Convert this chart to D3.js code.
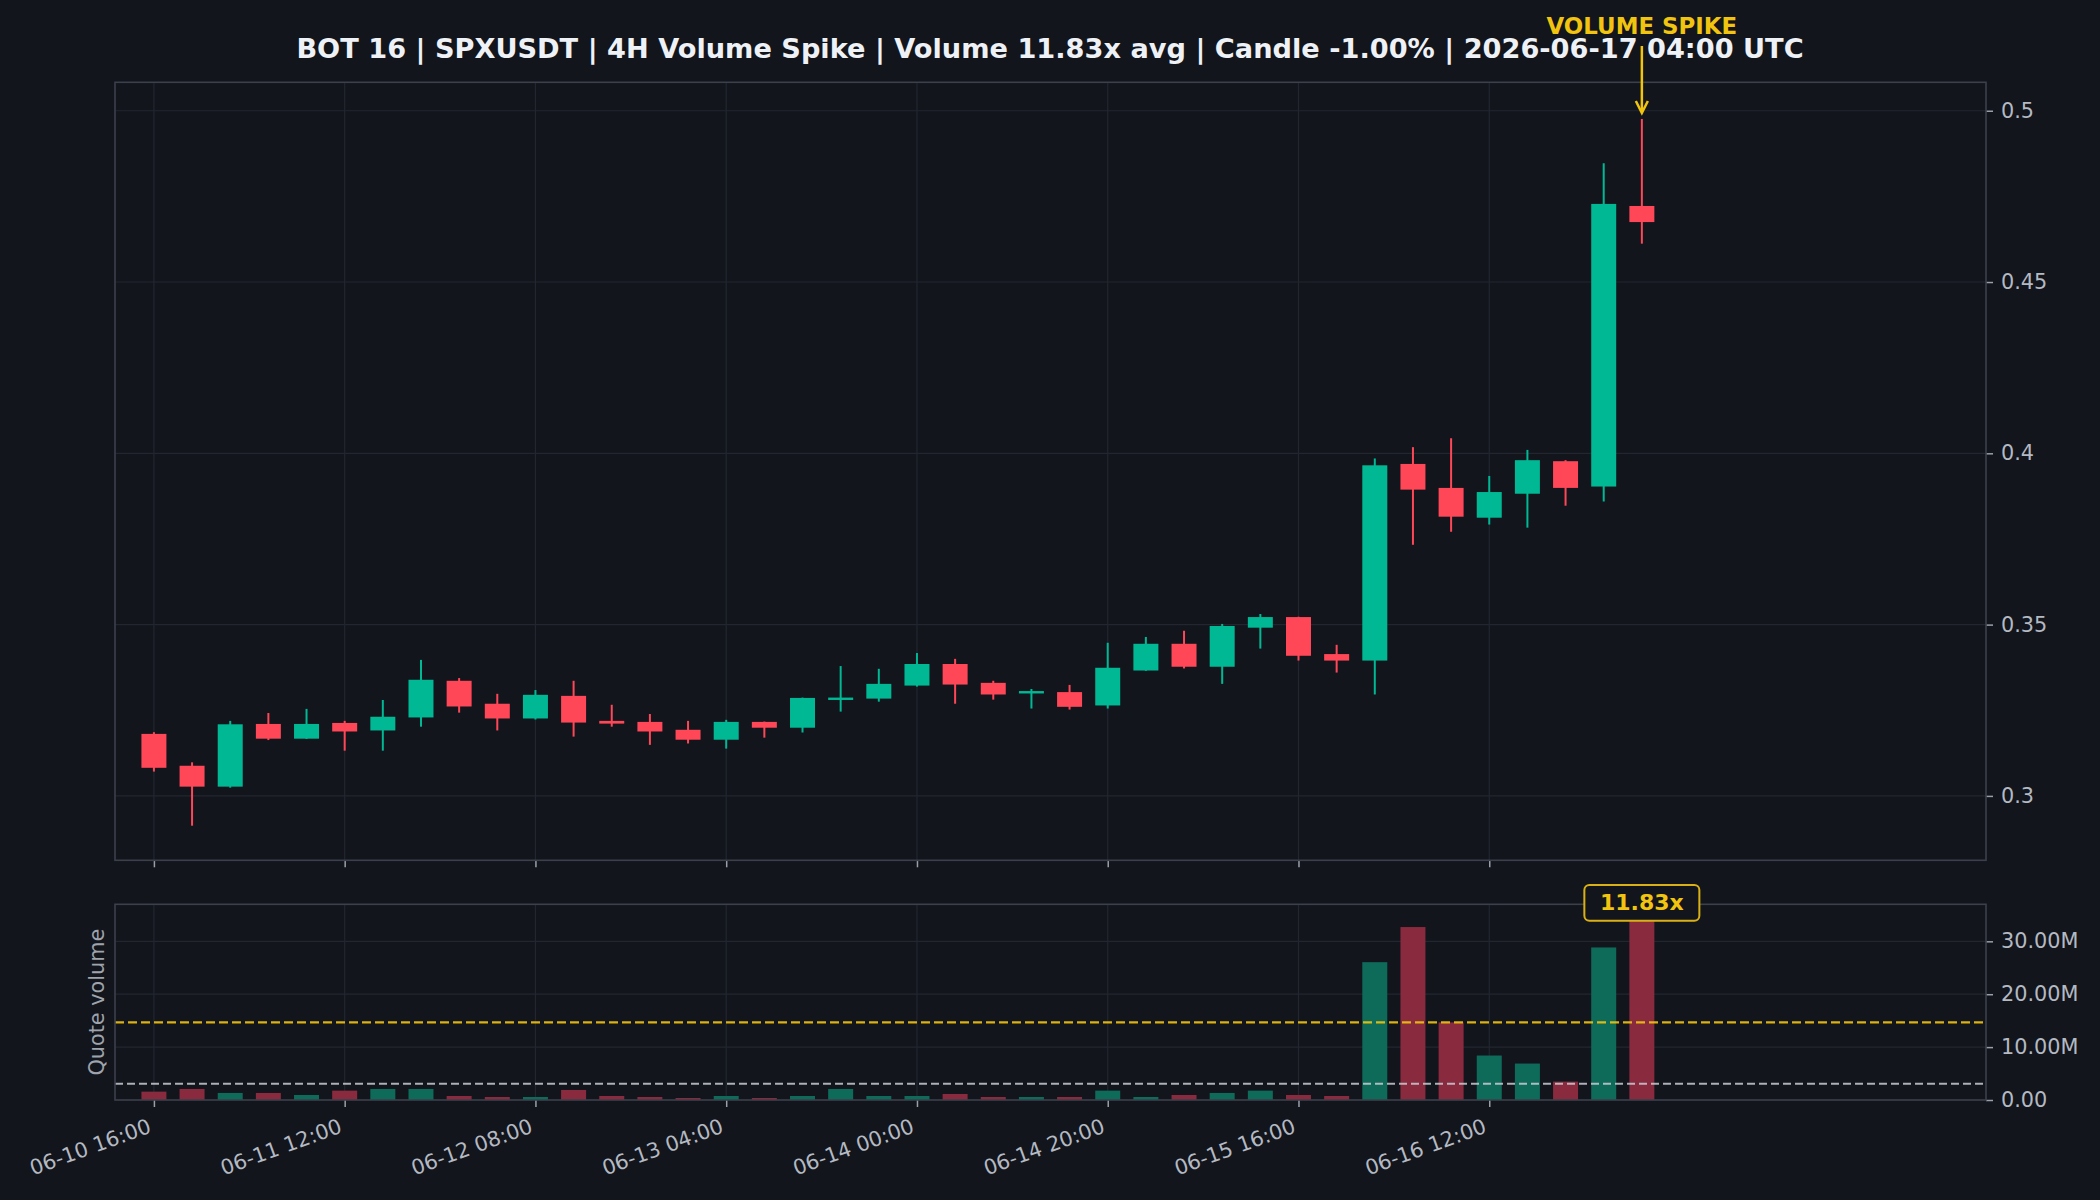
<!DOCTYPE html>
<html>
<head>
<meta charset="utf-8">
<script src="https://cdn.jsdelivr.net/npm/d3@7"></script>
<style>
  html, body { margin: 0; padding: 0; background: #12151c; }
  svg { display: block; }
  text { font-family: "DejaVu Sans", sans-serif; }
</style>
</head>
<body>
<svg id="chart" width="2100" height="1200"></svg>
<script>
// ---------- DATA ----------
const times = [
  "2026-06-10 16:00","2026-06-10 20:00",
  "2026-06-11 00:00","2026-06-11 04:00","2026-06-11 08:00","2026-06-11 12:00","2026-06-11 16:00","2026-06-11 20:00",
  "2026-06-12 00:00","2026-06-12 04:00","2026-06-12 08:00","2026-06-12 12:00","2026-06-12 16:00","2026-06-12 20:00",
  "2026-06-13 00:00","2026-06-13 04:00","2026-06-13 08:00","2026-06-13 12:00","2026-06-13 16:00","2026-06-13 20:00",
  "2026-06-14 00:00","2026-06-14 04:00","2026-06-14 08:00","2026-06-14 12:00","2026-06-14 16:00","2026-06-14 20:00",
  "2026-06-15 00:00","2026-06-15 04:00","2026-06-15 08:00","2026-06-15 12:00","2026-06-15 16:00","2026-06-15 20:00",
  "2026-06-16 00:00","2026-06-16 04:00","2026-06-16 08:00","2026-06-16 12:00","2026-06-16 16:00","2026-06-16 20:00",
  "2026-06-17 00:00","2026-06-17 04:00"
];
const open  = [0.3181,0.3088,0.3027,0.3210,0.3167,0.3213,0.3191,0.3229,0.3336,0.3269,0.3226,0.3292,0.3219,0.3216,0.3193,0.3164,0.3216,0.3199,0.3280,0.3284,0.3322,0.3385,0.3330,0.3299,0.3303,0.3264,0.3366,0.3444,0.3377,0.3491,0.3522,0.3414,0.3395,0.3969,0.3899,0.3812,0.3882,0.3977,0.3903,0.4722];
const high  = [0.3186,0.3098,0.3219,0.3242,0.3254,0.3219,0.3280,0.3397,0.3344,0.3298,0.3309,0.3336,0.3266,0.3239,0.3219,0.3222,0.3217,0.3287,0.3379,0.3371,0.3417,0.3400,0.3336,0.3312,0.3324,0.3447,0.3464,0.3482,0.3502,0.3531,0.3523,0.3441,0.3985,0.4018,0.4044,0.3934,0.4010,0.3980,0.4847,0.4976];
const low   = [0.3071,0.2913,0.3024,0.3163,0.3166,0.3132,0.3132,0.3202,0.3243,0.3191,0.3223,0.3173,0.3202,0.3149,0.3153,0.3138,0.3170,0.3185,0.3246,0.3275,0.3319,0.3269,0.3281,0.3255,0.3252,0.3255,0.3365,0.3372,0.3327,0.3430,0.3395,0.3360,0.3296,0.3733,0.3771,0.3792,0.3783,0.3847,0.3859,0.4612];
const close = [0.3082,0.3027,0.3209,0.3167,0.3210,0.3188,0.3231,0.3339,0.3261,0.3226,0.3295,0.3214,0.3211,0.3188,0.3164,0.3216,0.3199,0.3286,0.3287,0.3327,0.3385,0.3325,0.3296,0.3306,0.3260,0.3374,0.3444,0.3377,0.3496,0.3522,0.3409,0.3395,0.3965,0.3894,0.3815,0.3887,0.3980,0.3899,0.4728,0.4675];
// quote volume in millions
const volumeM = [1.58,2.09,1.33,1.33,0.95,1.77,2.09,2.09,0.76,0.57,0.57,1.90,0.76,0.57,0.38,0.76,0.38,0.76,2.09,0.76,0.76,1.14,0.57,0.57,0.57,1.77,0.57,0.95,1.33,1.77,0.95,0.76,26.06,32.70,14.67,8.41,6.89,3.48,28.84,36.55];
const avgVolumeM = 3.09;
const thresholdVolumeM = 14.68;
const spikeMultiple = "11.83x";

const xTickLabels = ["06-10 16:00","06-11 12:00","06-12 08:00","06-13 04:00","06-14 00:00","06-14 20:00","06-15 16:00","06-16 12:00"];
const priceTicks = [0.3,0.35,0.4,0.45,0.5];
const priceTickLabels = ["0.3","0.35","0.4","0.45","0.5"];
const volTicksM = [0,10,20,30];
const volTickLabels = ["0.00","10.00M","20.00M","30.00M"];

const titleText = "BOT 16 | SPXUSDT | 4H Volume Spike | Volume 11.83x avg | Candle -1.00% | 2026-06-17 04:00 UTC";
const spikeLabel = "VOLUME SPIKE";
const volumeAxisLabel = "Quote volume";

// ---------- LAYOUT ----------
const C = {
  bg: "#12151c", grid: "#22262f", spine: "#3b404b", tick: "#9aa0aa", tickText: "#b4b9c2",
  up: "#00b894", down: "#ff4757", upVol: "#0e6b5a", downVol: "#8a2a3e",
  yellow: "#f1c40f", boxStroke: "#d9b116", title: "#eef1f5", avg: "#c9ccd3"
};
const L = 115, R = 1986;
const mainTop = 82.3, mainBot = 860.3;
const volTop = 904.3, volBot = 1100;

const parse = d3.utcParse("%Y-%m-%d %H:%M");
const dates = times.map(parse);
const H4 = 4 * 3600 * 1000;
const x = d3.scaleUtc()
  .domain([new Date(+dates[0] - 1.02 * H4), new Date(+dates[0] + 48.02 * H4)])
  .range([L, R]);
const step = x(dates[1]) - x(dates[0]);
const bodyW = step * 0.655;

const y = d3.scaleLinear().domain([0.2812, 0.5083]).range([mainBot, mainTop]);
const yv = d3.scaleLinear().domain([0, 37.0]).range([volBot, volTop]);

const tickDates = xTickLabels.map(s => parse("2026-" + s));

const svg = d3.select("#chart");
svg.append("rect").attr("width", 2100).attr("height", 1200).attr("fill", C.bg);

// ---------- MAIN PANEL ----------
const gMain = svg.append("g");
gMain.append("g").selectAll("line").data(priceTicks).join("line")
  .attr("x1", L).attr("x2", R).attr("y1", d => y(d)).attr("y2", d => y(d))
  .attr("stroke", C.grid).attr("stroke-width", 1.2);
gMain.append("g").selectAll("line").data(tickDates).join("line")
  .attr("x1", d => x(d)).attr("x2", d => x(d)).attr("y1", mainTop).attr("y2", mainBot)
  .attr("stroke", C.grid).attr("stroke-width", 1.2);

const candles = gMain.append("g").selectAll("g").data(dates.map((d, i) => i)).join("g");
candles.append("line")
  .attr("x1", i => x(dates[i])).attr("x2", i => x(dates[i]))
  .attr("y1", i => y(high[i])).attr("y2", i => y(low[i]))
  .attr("stroke", i => close[i] >= open[i] ? C.up : C.down).attr("stroke-width", 2);
candles.append("rect")
  .attr("x", i => x(dates[i]) - bodyW / 2).attr("width", bodyW)
  .attr("y", i => y(Math.max(open[i], close[i])))
  .attr("height", i => Math.max(2, Math.abs(y(open[i]) - y(close[i]))))
  .attr("fill", i => close[i] >= open[i] ? C.up : C.down);

const yAxis = d3.axisRight(y).tickValues(priceTicks).tickFormat((d, i) => priceTickLabels[i])
  .tickSize(7).tickPadding(8);
const gy = svg.append("g").attr("transform", `translate(${R},0)`).call(yAxis);
gy.select(".domain").remove();
gy.selectAll(".tick line").attr("stroke", C.tick).attr("stroke-width", 1.5);
gy.selectAll(".tick text").attr("fill", C.tickText).attr("font-size", 20.8).attr("font-family", "DejaVu Sans");

const xAxisMain = d3.axisBottom(x).tickValues(tickDates).tickFormat("").tickSize(7);
const gxm = svg.append("g").attr("transform", `translate(0,${mainBot})`).call(xAxisMain);
gxm.select(".domain").remove();
gxm.selectAll(".tick line").attr("stroke", C.tick).attr("stroke-width", 1.5);

svg.append("rect").attr("x", L).attr("y", mainTop).attr("width", R - L).attr("height", mainBot - mainTop)
  .attr("fill", "none").attr("stroke", C.spine).attr("stroke-width", 1.6);

// ---------- VOLUME PANEL ----------
const gVol = svg.append("g");
gVol.append("g").selectAll("line").data(volTicksM.slice(1)).join("line")
  .attr("x1", L).attr("x2", R).attr("y1", d => yv(d)).attr("y2", d => yv(d))
  .attr("stroke", C.grid).attr("stroke-width", 1.2);
gVol.append("g").selectAll("line").data(tickDates).join("line")
  .attr("x1", d => x(d)).attr("x2", d => x(d)).attr("y1", volTop).attr("y2", volBot)
  .attr("stroke", C.grid).attr("stroke-width", 1.2);

gVol.append("g").selectAll("rect").data(dates.map((d, i) => i)).join("rect")
  .attr("x", i => x(dates[i]) - bodyW / 2).attr("width", bodyW)
  .attr("y", i => yv(volumeM[i])).attr("height", i => yv(0) - yv(volumeM[i]))
  .attr("fill", i => close[i] >= open[i] ? C.upVol : C.downVol);

gVol.append("line").attr("x1", L).attr("x2", R).attr("y1", yv(thresholdVolumeM)).attr("y2", yv(thresholdVolumeM))
  .attr("stroke", C.yellow).attr("stroke-width", 2.4).attr("stroke-dasharray", "9,4").attr("opacity", 0.9);
gVol.append("line").attr("x1", L).attr("x2", R).attr("y1", yv(avgVolumeM)).attr("y2", yv(avgVolumeM))
  .attr("stroke", C.avg).attr("stroke-width", 2).attr("stroke-dasharray", "8,4").attr("opacity", 0.85);

const yvAxis = d3.axisRight(yv).tickValues(volTicksM).tickFormat((d, i) => volTickLabels[i])
  .tickSize(7).tickPadding(8);
const gyv = svg.append("g").attr("transform", `translate(${R},0)`).call(yvAxis);
gyv.select(".domain").remove();
gyv.selectAll(".tick line").attr("stroke", C.tick).attr("stroke-width", 1.5);
gyv.selectAll(".tick text").attr("fill", C.tickText).attr("font-size", 20.8).attr("font-family", "DejaVu Sans");

const xAxisVol = d3.axisBottom(x).tickValues(tickDates).tickFormat((d, i) => xTickLabels[i]).tickSize(7);
const gxv = svg.append("g").attr("transform", `translate(0,${volBot})`).call(xAxisVol);
gxv.select(".domain").remove();
gxv.selectAll(".tick line").attr("stroke", C.tick).attr("stroke-width", 1.5);
gxv.selectAll(".tick text")
  .attr("fill", C.tickText).attr("font-size", 20.8).attr("font-family", "DejaVu Sans")
  .attr("text-anchor", "end").attr("dy", null).attr("y", null)
  .attr("transform", "translate(-2,32) rotate(-20)");

svg.append("rect").attr("x", L).attr("y", volTop).attr("width", R - L).attr("height", volBot - volTop)
  .attr("fill", "none").attr("stroke", C.spine).attr("stroke-width", 1.6);

svg.append("text").attr("transform", `translate(104,${(volTop + volBot) / 2}) rotate(-90)`)
  .attr("text-anchor", "middle").attr("fill", "#9ea3ac").attr("font-size", 20.8)
  .text(volumeAxisLabel);

// spike badge
const lastI = dates.length - 1;
const bx = x(dates[lastI]);
const badge = svg.append("g");
badge.append("rect").attr("x", bx - 57.5).attr("y", 885).attr("width", 115).attr("height", 35.7)
  .attr("rx", 5).attr("fill", C.bg).attr("stroke", C.boxStroke).attr("stroke-width", 2);
badge.append("text").attr("x", bx).attr("y", 910).attr("text-anchor", "middle")
  .attr("fill", C.yellow).attr("font-weight", "bold").attr("font-size", 22).text(spikeMultiple);

// ---------- TITLE + ANNOTATION ----------
svg.append("text").attr("x", 1050).attr("y", 58).attr("text-anchor", "middle")
  .attr("fill", C.title).attr("font-weight", "bold").attr("font-size", 27.2).text(titleText);

svg.append("text").attr("x", bx).attr("y", 34).attr("text-anchor", "middle")
  .attr("fill", C.yellow).attr("font-weight", "bold").attr("font-size", 22.9).text(spikeLabel);

const tipY = 113;
svg.append("line").attr("x1", bx).attr("x2", bx).attr("y1", 46).attr("y2", tipY - 1)
  .attr("stroke", C.yellow).attr("stroke-width", 2.5);
svg.append("path")
  .attr("d", `M${bx - 6},${tipY - 12} L${bx},${tipY} L${bx + 6},${tipY - 12}`)
  .attr("fill", "none").attr("stroke", C.yellow).attr("stroke-width", 2.5).attr("stroke-linejoin", "miter");
</script>
</body>
</html>
